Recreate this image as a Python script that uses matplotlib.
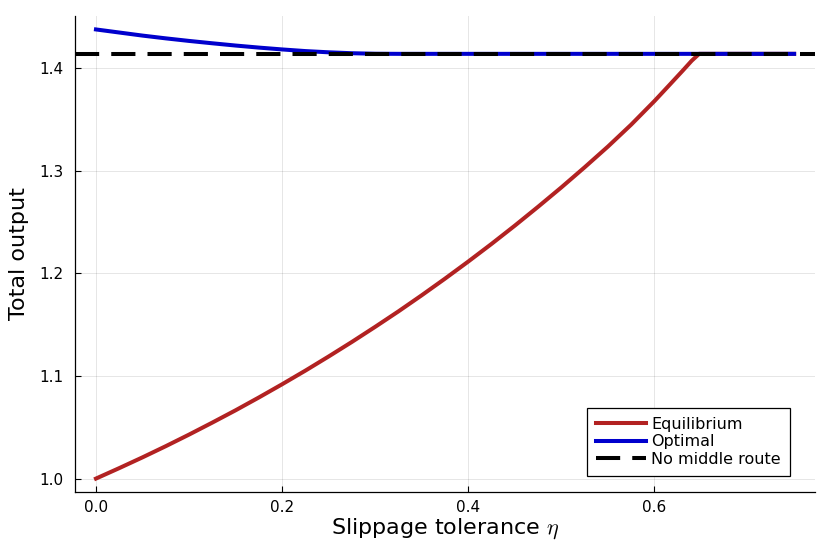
import matplotlib
matplotlib.use("Agg")
import matplotlib.pyplot as plt
from matplotlib.ticker import FormatStrFormatter

plt.rcParams["mathtext.fontset"] = "cm"

# data
eta = [0.0, 0.025, 0.05, 0.075, 0.1, 0.125, 0.15, 0.175, 0.2, 0.225, 0.25,
       0.275, 0.3, 0.325, 0.35, 0.375, 0.4, 0.425, 0.45, 0.475, 0.5, 0.525,
       0.55, 0.575, 0.6, 0.615, 0.63, 0.64, 0.648, 0.7, 0.75]
equilibrium = [1.0, 1.0102, 1.0207, 1.0316, 1.0429, 1.0546, 1.0666, 1.0791,
               1.0920, 1.1053, 1.1191, 1.1333, 1.1480, 1.1631, 1.1788, 1.1950,
               1.2117, 1.2289, 1.2467, 1.2651, 1.2840, 1.3036, 1.3238, 1.3452,
               1.3682, 1.3828, 1.3975, 1.4075, 1.4142, 1.4142, 1.4142]
optimal = [1.438, 1.4350, 1.4320, 1.4293, 1.4268, 1.4245, 1.4223, 1.4203,
           1.4185, 1.4169, 1.4157, 1.4148, 1.4143, 1.4142, 1.4142, 1.4142,
           1.4142, 1.4142, 1.4142, 1.4142, 1.4142, 1.4142, 1.4142, 1.4142,
           1.4142, 1.4142, 1.4142, 1.4142, 1.4142, 1.4142, 1.4142]
no_middle = 2 ** 0.5

fig = plt.figure(figsize=(8.3, 5.54), dpi=100)
ax = fig.add_axes([0.0904, 0.1119, 0.8916, 0.8592])

ax.plot(eta, equilibrium, color="#b22222", lw=2.9, label="Equilibrium", zorder=2)
ax.plot(eta, optimal, color="#0000cd", lw=2.9, label="Optimal", zorder=3)
ax.axhline(no_middle, color="black", lw=2.9, ls=(0, (6, 3)),
           label="No middle route", zorder=4)

ax.set_xlim(-0.0225, 0.7725)
ax.set_ylim(0.9869, 1.4511)
ax.set_xticks([0.0, 0.2, 0.4, 0.6])
ax.set_yticks([1.0, 1.1, 1.2, 1.3, 1.4])
ax.xaxis.set_major_formatter(FormatStrFormatter("%.1f"))
ax.yaxis.set_major_formatter(FormatStrFormatter("%.1f"))
ax.grid(True, color="black", alpha=0.1, lw=0.7)
ax.tick_params(direction="in", labelsize=11, length=4.3, width=0.8)
ax.tick_params(axis="y", pad=8)
ax.tick_params(axis="x", pad=6)
for side in ("top", "right"):
    ax.spines[side].set_visible(False)
for side in ("left", "bottom"):
    ax.spines[side].set_linewidth(0.9)

ax.set_xlabel(r"Slippage tolerance $\eta$", fontsize=16, labelpad=1)
ax.set_ylabel("Total output", fontsize=16, labelpad=8)

leg = ax.legend(loc="lower right", bbox_to_anchor=(0.966, 0.034),
                borderaxespad=0, fontsize=11.5, fancybox=False, framealpha=1,
                edgecolor="black", handlelength=3.15, handletextpad=0.35,
                labelspacing=0.16, borderpad=0.55)
leg.get_frame().set_linewidth(0.9)

fig.savefig("out.png", dpi=100)
